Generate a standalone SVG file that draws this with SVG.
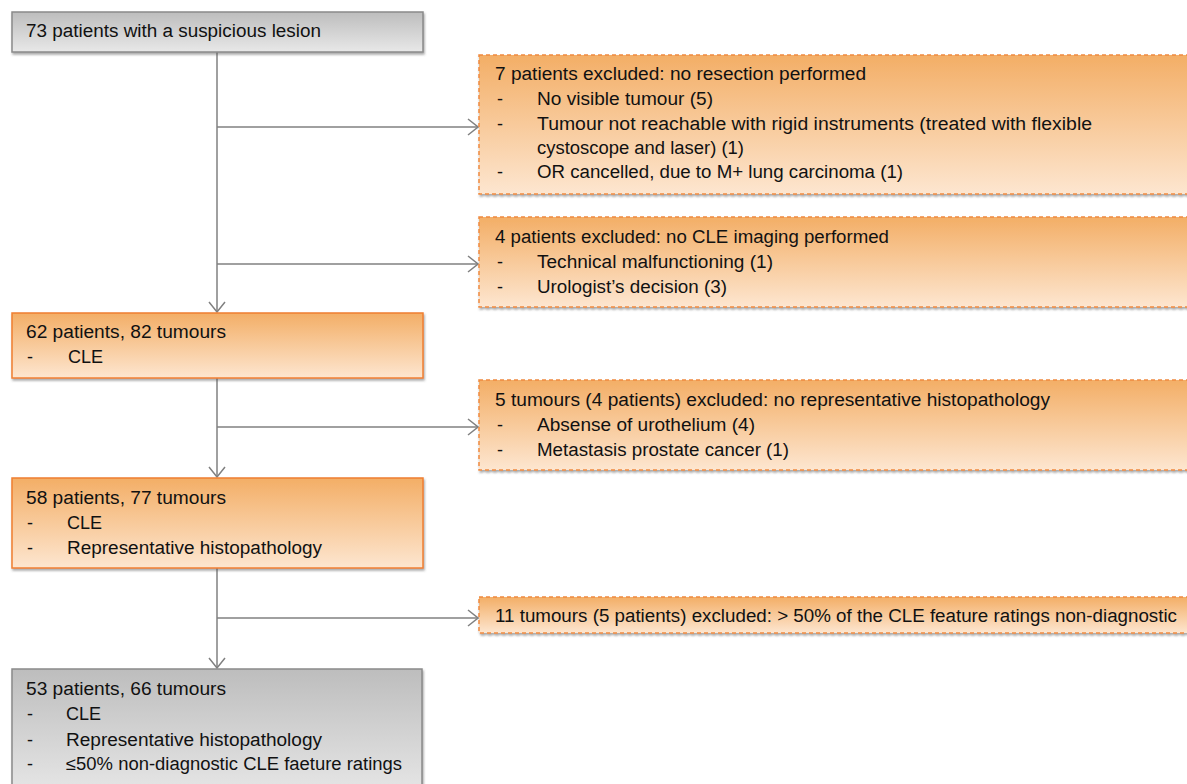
<svg xmlns="http://www.w3.org/2000/svg" width="1187" height="784" viewBox="0 0 1187 784">
<style>
text{font-family:"Liberation Sans",Arial,sans-serif;font-size:18px;fill:#111}
.gray{fill:url(#gGray);stroke:#8a8a8a;stroke-width:1.5}
.org{fill:url(#gOrg);stroke:#f07f30;stroke-width:1.5}
.orgd{fill:url(#gOrg);stroke:#f08a40;stroke-width:1.5;stroke-dasharray:4 3}
.shadow{filter:url(#sh)}
.conn{fill:none;stroke:#808080;stroke-width:1.5;marker-end:url(#arr)}
</style>
<defs>
<linearGradient id="gGray" x1="0" y1="0" x2="0" y2="1">
<stop offset="0" stop-color="#bdbdbd"/><stop offset="1" stop-color="#e8e8e8"/>
</linearGradient>
<linearGradient id="gOrg" x1="0" y1="0" x2="0" y2="1">
<stop offset="0" stop-color="#f3ae66"/><stop offset="1" stop-color="#fde6d0"/>
</linearGradient>
<filter id="sh" x="-5%" y="-10%" width="110%" height="130%">
<feDropShadow dx="1" dy="2" stdDeviation="1" flood-color="#555" flood-opacity="0.5"/>
</filter>
<marker id="arr" markerUnits="userSpaceOnUse" viewBox="-1 -9 12 18" markerWidth="12" markerHeight="18" refX="10" refY="0" orient="auto">
<path d="M0,-8 L10,0 L0,8" fill="none" stroke="#808080" stroke-width="1.5"/>
</marker>
</defs>

<g id="connectors">
<line class="conn" x1="217" y1="52" x2="217" y2="312"/>
<line class="conn" x1="217" y1="127" x2="478" y2="127"/>
<line class="conn" x1="217" y1="264" x2="478" y2="264"/>
<line class="conn" x1="217" y1="378" x2="217" y2="477"/>
<line class="conn" x1="217" y1="427" x2="478" y2="427"/>
<line class="conn" x1="217" y1="568" x2="217" y2="668"/>
<line class="conn" x1="217" y1="618" x2="478" y2="618"/>
</g>

<g id="node-start">
<rect class="gray shadow" x="12" y="12" width="411" height="40"/>
<text x="26" y="37" textLength="295" lengthAdjust="spacingAndGlyphs">73 patients with a suspicious lesion</text>
</g>

<g id="node-excl1">
<rect class="orgd shadow" x="479" y="55" width="730" height="139"/>
<text x="495" y="80" textLength="371" lengthAdjust="spacingAndGlyphs">7 patients excluded: no resection performed</text>
<text x="497" y="105">-</text>
<text x="537" y="105" textLength="176" lengthAdjust="spacingAndGlyphs">No visible tumour (5)</text>
<text x="497" y="130">-</text>
<text x="537" y="130" textLength="555" lengthAdjust="spacingAndGlyphs">Tumour not reachable with rigid instruments (treated with flexible</text>
<text x="537" y="154" textLength="207" lengthAdjust="spacingAndGlyphs">cystoscope and laser) (1)</text>
<text x="497" y="178">-</text>
<text x="537" y="178" textLength="366" lengthAdjust="spacingAndGlyphs">OR cancelled, due to M+ lung carcinoma (1)</text>
</g>

<g id="node-excl2">
<rect class="orgd shadow" x="479" y="217" width="730" height="90"/>
<text x="495" y="243" textLength="394" lengthAdjust="spacingAndGlyphs">4 patients excluded: no CLE imaging performed</text>
<text x="497" y="268">-</text>
<text x="537" y="268" textLength="236" lengthAdjust="spacingAndGlyphs">Technical malfunctioning (1)</text>
<text x="497" y="293">-</text>
<text x="537" y="293" textLength="190" lengthAdjust="spacingAndGlyphs">Urologist’s decision (3)</text>
</g>

<g id="node-62">
<rect class="org shadow" x="12" y="313" width="411" height="65"/>
<text x="26" y="338" textLength="200" lengthAdjust="spacingAndGlyphs">62 patients, 82 tumours</text>
<text x="27" y="363">-</text>
<text x="68" y="363">CLE</text>
</g>

<g id="node-excl3">
<rect class="orgd shadow" x="479" y="380" width="730" height="90"/>
<text x="495" y="406" textLength="555" lengthAdjust="spacingAndGlyphs">5 tumours (4 patients) excluded: no representative histopathology</text>
<text x="497" y="431">-</text>
<text x="537" y="431" textLength="218" lengthAdjust="spacingAndGlyphs">Absense of urothelium (4)</text>
<text x="497" y="456">-</text>
<text x="537" y="456" textLength="252" lengthAdjust="spacingAndGlyphs">Metastasis prostate cancer (1)</text>
</g>

<g id="node-58">
<rect class="org shadow" x="12" y="478" width="411" height="90"/>
<text x="26" y="504" textLength="200" lengthAdjust="spacingAndGlyphs">58 patients, 77 tumours</text>
<text x="27" y="529">-</text>
<text x="67" y="529">CLE</text>
<text x="27" y="554">-</text>
<text x="67" y="554" textLength="255" lengthAdjust="spacingAndGlyphs">Representative histopathology</text>
</g>

<g id="node-excl4">
<rect class="orgd shadow" x="479" y="597" width="730" height="36"/>
<text x="495" y="622" textLength="682" lengthAdjust="spacingAndGlyphs">11 tumours (5 patients) excluded: &gt; 50% of the CLE feature ratings non-diagnostic</text>
</g>

<g id="node-53">
<rect class="gray shadow" x="12" y="669" width="410" height="130"/>
<text x="26" y="695" textLength="200" lengthAdjust="spacingAndGlyphs">53 patients, 66 tumours</text>
<text x="27" y="720">-</text>
<text x="66" y="720">CLE</text>
<text x="27" y="746">-</text>
<text x="66" y="746" textLength="256" lengthAdjust="spacingAndGlyphs">Representative histopathology</text>
<text x="27" y="770">-</text>
<text x="66" y="770" textLength="336" lengthAdjust="spacingAndGlyphs">≤50% non-diagnostic CLE faeture ratings</text>
</g>
</svg>
